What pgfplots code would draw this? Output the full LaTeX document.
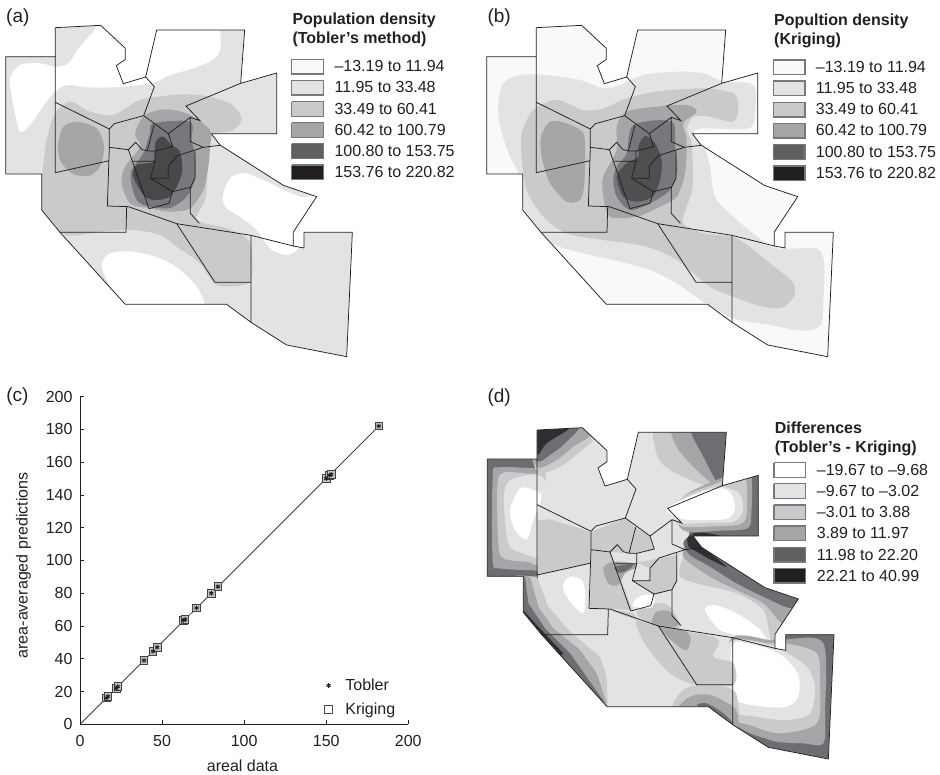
\documentclass[border=0pt]{standalone}
\usepackage{fontspec}
\setmainfont{Liberation Sans}
\usepackage{pgfplots}
\usepackage{pgfplotstable}
\pgfplotsset{compat=1.18}
\definecolor{lv1}{HTML}{F9F9F9}
\definecolor{lv2}{HTML}{E2E3E5}
\definecolor{lv3}{HTML}{C9CACC}
\definecolor{lv4}{HTML}{A5A6A8}
\definecolor{lv5}{HTML}{77787B}
\definecolor{lv6}{HTML}{47484A}
\definecolor{lv7}{HTML}{6D6E71}
\definecolor{lv8}{HTML}{2F2F31}
\definecolor{lg5}{HTML}{5F6062}
\definecolor{lg6}{HTML}{231F20}
\definecolor{edge}{HTML}{231F20}
\pgfplotstableread{
x y
166 83
302 76
376 145
376 178
349 197
370 251
437 231
470 90
734 90
722 250
830 219
830 401
634 401
660 435
850 556
950 590
880 696
880 738
912 744
912 697
1057 697
1040 1070
860 1035
753 967
680 913
376 913
180 697
125 630
125 522
17 522
17 170
166 170
166 83
}\tblOuter
\pgfplotstableread{
x y
-300 -300
1800 -300
1800 1500
-300 1500
-300 -300
166 83
302 76
376 145
376 178
349 197
370 251
437 231
470 90
734 90
722 250
830 219
830 401
634 401
660 435
850 556
950 590
880 696
880 738
912 744
912 697
1057 697
1040 1070
860 1035
753 967
680 913
376 913
180 697
125 630
125 522
17 522
17 170
166 170
166 83
-300 -300
}\tblMask
\pgfplotstableread{
x y
166 170
166 518
nan nan
166 307
328 387
343 371
431 347
463 260
437 231
nan nan
431 347
505 401
571 352
600 362
558 318
722 250
nan nan
328 387
328 442
322 618
385 620
530 671
753 706
880 738
nan nan
166 518
328 482
nan nan
328 442
385 449
407 427
425 448
442 453
465 453
518 440
505 401
nan nan
462 375
442 453
nan nan
385 449
447 626
nan nan
400 484
465 484
nan nan
465 453
465 484
452 535
517 575
571 562
585 535
585 453
nan nan
452 535
505 535
505 498
532 467
610 442
660 436
nan nan
571 352
571 425
610 442
nan nan
571 562
571 640
598 670
nan nan
517 575
507 610
447 626
nan nan
380 620
378 697
180 697
nan nan
530 671
645 847
753 847
nan nan
753 706
753 967
}\tblLines
\pgfplotsset{
 mapaxis/.style={scale only axis,hide axis,y dir=reverse,xmin=0,ymin=0,anchor=north west},
 c0/.style={fill=white,draw=none,smooth cycle},
 c1/.style={fill=lv1,draw=none,smooth cycle},
 c2/.style={fill=lv2,draw=none,smooth cycle},
 c3/.style={fill=lv3,draw=none,smooth cycle},
 c4/.style={fill=lv4,draw=none,smooth cycle},
 c5/.style={fill=lv5,draw=none,smooth cycle},
 c6/.style={fill=lv6,draw=none,smooth cycle},
 c7/.style={fill=lv7,draw=none,smooth cycle},
 c8/.style={fill=lv8,draw=none,smooth cycle},
 p3/.style={fill=lv3,draw=none},
 p4/.style={fill=lv4,draw=none},
 p7/.style={fill=lv7,draw=none},
}
\newcommand{\fs}{\fontsize{16}{19}\selectfont}
\newcommand{\ap}{{\char"0027}}
\newcommand{\basefill}[3]{\addplot[draw=none,fill=#1] table[x expr=\thisrow{x}+#2,y expr=\thisrow{y}+#3]{\tblOuter};}
\newcommand{\maskandlines}[2]{%
 \addplot[draw=none,fill=white,even odd rule] table[x expr=\thisrow{x}+#1,y expr=\thisrow{y}+#2]{\tblMask};
 \addplot[draw=edge,line width=0.75pt,line join=miter] table[x expr=\thisrow{x}+#1,y expr=\thisrow{y}+#2]{\tblOuter};
 \addplot[draw=edge,line width=0.75pt,unbounded coords=jump] table[x expr=\thisrow{x}+#1,y expr=\thisrow{y}+#2]{\tblLines};
}
\newcommand{\lrow}[6]{%
 \addplot[draw=lv5,line width=1.2pt,fill=#4] coordinates {(#1,#3-22) (#2,#3-22) (#2,#3+22) (#1,#3+22) (#1,#3-22)};
 \node[anchor=base west,inner sep=0pt,text=edge,font=\fs] at (axis cs:#5,#3+16) {#6};
}
\begin{document}
\begin{tikzpicture}[x=1pt,y=1pt]
\useasboundingbox (0,0) rectangle (940,774);
%--------------- (a)
\begin{axis}[mapaxis,at={(0pt,774pt)},width=470pt,height=380pt,xmax=1410,ymax=1140]
\basefill{lv2}{0}{0}
\addplot[c0] coordinates {(30,235)(60,195)(120,190)(166,200)(205,190)(240,140)(280,95)(310,55)(400,70)(470,60)(640,60)(662,140)(640,178)(580,205)(510,225)(470,245)(420,255)(340,262)(260,262)(200,255)(160,280)(125,325)(90,375)(60,395)(45,340)(35,285)};
\addplot[c0] coordinates {(668,590)(690,535)(735,520)(800,545)(900,590)(960,590)(930,660)(895,745)(860,765)(810,745)(770,690)(720,650)(680,625)};
\addplot[c0] coordinates {(305,800)(330,760)(400,755)(480,775)(540,810)(590,860)(615,913)(620,950)(376,950)(340,880)};
\addplot[c3] coordinates {(125,525)(140,420)(165,340)(210,305)(270,335)(340,345)(420,300)(520,285)(600,285)(690,310)(725,355)(700,390)(640,405)(622,450)(622,520)(615,600)(590,660)(680,685)(745,720)(757,790)(745,850)(650,855)(600,790)(530,740)(480,705)(400,690)(300,695)(200,705)(125,640)(105,580)};
\addplot[c4] coordinates {(175,430)(190,380)(230,365)(290,385)(312,440)(300,500)(265,528)(215,520)(180,480)};
\addplot[c4] coordinates {(405,400)(435,345)(500,328)(570,345)(630,390)(630,440)(625,500)(610,570)(570,625)(510,635)(450,625)(390,610)(365,550)(375,500)(420,440)};
\addplot[c5] coordinates {(460,370)(570,365)(575,420)(585,470)(585,535)(560,590)(505,625)(420,610)(395,555)(395,510)(430,460)(450,400)};
\addplot[c6] coordinates {(470,420)(490,410)(515,435)(540,455)(547,510)(535,550)(510,590)(470,600)(435,590)(400,530)(410,495)(460,485)(465,440)};
\maskandlines{0}{0}
\node[anchor=base west,inner sep=0pt,text=edge,font=\fontsize{19}{22}\selectfont] at (axis cs:18,68) {(a)};
\node[anchor=base west,inner sep=0pt,text=edge,font=\fs\bfseries] at (axis cs:877,74) {Population density};
\node[anchor=base west,inner sep=0pt,text=edge,font=\fs\bfseries] at (axis cs:877,131) {(Tobler\ap s method)};
\lrow{875}{970}{200}{lv1}{1003}{–13.19 to 11.94}
\lrow{875}{970}{263}{lv2}{1003}{11.95 to 33.48}
\lrow{875}{970}{327}{lv3}{1003}{33.49 to 60.41}
\lrow{875}{970}{390}{lv4}{1003}{60.42 to 100.79}
\lrow{875}{970}{453}{lg5}{1003}{100.80 to 153.75}
\lrow{875}{970}{517}{lg6}{1003}{153.76 to 220.82}
\end{axis}
%--------------- (b)
\begin{axis}[mapaxis,at={(470pt,774pt)},width=470pt,height=380pt,xmax=1410,ymax=1140]
\basefill{lv1}{33}{0}
\addplot[c2] coordinates {(85,310)(100,250)(150,225)(230,225)(330,240)(400,265)(450,255)(520,225)(620,215)(700,220)(760,245)(850,255)(855,340)(835,385)(700,385)(670,395)(700,430)(720,500)(735,590)(790,650)(850,700)(920,745)(1040,745)(1062,790)(1060,900)(1052,975)(1000,992)(900,975)(790,955)(700,905)(620,850)(540,810)(430,780)(320,755)(230,720)(160,620)(150,530)(120,470)(90,380)};
\addplot[c3] coordinates {(155,400)(190,330)(260,300)(340,330)(400,325)(470,295)(560,275)(700,265)(790,280)(805,320)(790,365)(720,350)(670,350)(650,390)(665,430)(668,560)(650,620)(640,670)(700,700)(800,715)(900,790)(970,850)(970,892)(930,925)(860,915)(790,890)(720,860)(620,780)(530,740)(400,720)(290,700)(220,650)(170,570)(155,470)};
\addplot[c4] coordinates {(213,410)(240,365)(290,370)(340,400)(345,470)(342,560)(330,600)(290,605)(240,550)(215,470)};
\addplot[c4] coordinates {(440,380)(470,335)(560,320)(650,315)(680,335)(640,370)(650,420)(645,520)(620,590)(570,620)(500,650)(420,650)(400,590)(400,530)(440,450)};
\addplot[c5] coordinates {(490,375)(605,365)(615,440)(622,510)(600,570)(540,610)(480,630)(440,590)(430,540)(440,500)(470,460)};
\addplot[fill=lv6!85!lv5,draw=none,smooth cycle] coordinates {(505,440)(525,408)(555,430)(575,480)(570,540)(548,590)(500,605)(460,590)(440,530)(470,490)(505,470)};
\maskandlines{33}{0}
\node[anchor=base west,inner sep=0pt,text=edge,font=\fontsize{19}{22}\selectfont] at (axis cs:52,68) {(b)};
\node[anchor=base west,inner sep=0pt,text=edge,font=\fs\bfseries] at (axis cs:912,76) {Popultion density};
\node[anchor=base west,inner sep=0pt,text=edge,font=\fs\bfseries] at (axis cs:912,134) {(Kriging)};
\lrow{910}{1005}{202}{lv1}{1037}{–13.19 to 11.94}
\lrow{910}{1005}{265}{lv2}{1037}{11.95 to 33.48}
\lrow{910}{1005}{329}{lv3}{1037}{33.49 to 60.41}
\lrow{910}{1005}{392}{lv4}{1037}{60.42 to 100.79}
\lrow{910}{1005}{456}{lg5}{1037}{100.80 to 153.75}
\lrow{910}{1005}{520}{lg6}{1037}{153.76 to 220.82}
\end{axis}
%--------------- (c)
\begin{axis}[scale only axis,at={(80pt,49.7pt)},anchor=origin,width=328.3pt,height=327.7pt,
 xmin=0,xmax=200,ymin=0,ymax=200,axis x line=bottom,axis y line=left,axis line style={-,edge,line width=0.9pt},
 xtick={0,50,100,150,200},ytick={0,20,...,200},tick align=inside,major tick length=4pt,
 tick style={edge,line width=0.8pt},clip=false,
 ticklabel style={font=\fs,text=edge},
 xticklabel style={yshift=-7pt},
 yticklabel style={xshift=-4pt},
 /pgf/number format/assume math mode=true,
 legend style={at={(axis cs:149,29)},anchor=north west,draw=none,fill=none,font=\fs,row sep=7pt,text=edge,inner sep=0pt},
 legend cell align=left]
\addplot[edge,line width=0.7pt,forget plot] coordinates {(0,0)(182,182)};
\addplot[only marks,forget plot,mark=square*,mark size=3.8pt,mark options={draw=edge!85!white,line width=0.8pt,fill=lv4!70!white}] coordinates {(16,16)(17,17)(22,22)(23,23)(39,39)(44.5,44.5)(47,47)(63,63.5)(64,64)(71,71)(80,80)(84,84)(150,150)(152,152)(153,152.5)(182,182)};
\addplot[only marks,mark=asterisk,mark size=2.4pt,mark options={draw=edge,line width=0.9pt}] coordinates {(16,16)(17,17)(22,22)(23,23)(39,39)(44.5,44.5)(47,47)(63,63.5)(64,64)(71,71)(80,80)(84,84)(150,150)(152,152)(153,152.5)(182,182)};
\addlegendentry{\hspace*{11pt}Tobler}
\addlegendimage{only marks,mark=square,mark size=3.8pt,mark options={draw=edge!80!white,line width=0.8pt}}
\addlegendentry{\hspace*{11pt}Kriging}
\node[anchor=west,inner sep=0pt,text=edge,font=\fontsize{19}{22}\selectfont] at (axis cs:-45,200) {(c)};
\node[anchor=center,inner sep=0pt,text=edge,font=\fs] at (axis cs:99,-25.3) {areal data};
\node[anchor=center,inner sep=0pt,text=edge,font=\fs,rotate=90] at (axis cs:-34.5,97) {area-averaged predictions};
\end{axis}
%--------------- (d)
\begin{axis}[mapaxis,at={(470pt,394pt)},width=470pt,height=394pt,xmax=1410,ymax=1182]
\basefill{lv2}{35}{67}
\addplot[p7] coordinates {(40,225)(203,225)(203,600)(40,600)};
\addplot[c4] coordinates {(68,290)(85,262)(200,265)(225,262)(225,560)(190,570)(90,565)(68,540)};
\addplot[c3] coordinates {(82,320)(100,278)(190,282)(225,280)(225,540)(170,545)(100,535)(85,490)};
\addplot[c2] coordinates {(102,350)(125,298)(225,300)(225,520)(160,520)(115,490)};
\addplot[c0] coordinates {(120,390)(150,325)(190,330)(215,350)(190,420)(170,478)(135,450)};
\addplot[p3] coordinates {(203,420)(240,418)(330,445)(365,460)(365,550)(280,570)(203,585)};
\addplot[c3] coordinates {(203,130)(340,130)(372,175)(330,215)(270,260)(203,278)(185,200)};
\addplot[c4] coordinates {(190,140)(335,130)(360,165)(310,200)(260,240)(203,262)(180,200)};
\addplot[c7] coordinates {(190,140)(330,130)(285,190)(240,225)(203,245)(180,200)};
\addplot[c8] coordinates {(190,135)(300,140)(230,190)(203,225)(185,190)};
\addplot[c3] coordinates {(567,140)(555,200)(575,250)(640,290)(760,325)(790,200)(790,140)};
\addplot[c4] coordinates {(615,140)(620,200)(680,270)(760,325)(790,200)(790,140)};
\addplot[c7] coordinates {(665,140)(700,230)(760,325)(790,200)(790,140)};
\addplot[p7] coordinates {(757,300)(880,270)(880,480)(655,480)(660,440)};
\addplot[c4] coordinates {(740,300)(838,270)(844,400)(832,445)(750,452)(650,455)(620,420)(640,350)};
\addplot[c3] coordinates {(740,310)(822,280)(830,400)(812,432)(750,438)(640,440)(610,410)(640,350)};
\addplot[c2] coordinates {(740,320)(808,340)(818,395)(790,425)(720,428)(640,430)(600,405)(640,360)};
\addplot[c0] coordinates {(590,385)(680,340)(757,325)(785,345)(795,385)(775,415)(720,420)(640,418)(607,405)};
\addplot[c3] coordinates {(630,590)(640,530)(665,470)(700,490)(880,610)(1000,650)(950,740)(915,800)(900,770)(880,690)(800,640)(700,615)};
\addplot[c4] coordinates {(640,530)(660,480)(700,490)(880,610)(1000,650)(950,730)(925,720)(880,670)(800,630)(720,590)};
\addplot[c7] coordinates {(640,490)(660,470)(700,490)(880,610)(1000,650)(965,685)(880,650)(800,610)(720,560)(660,525)};
\addplot[c8] coordinates {(652,475)(665,465)(690,495)(770,560)(720,538)(680,515)(656,500)};
\addplot[c8] coordinates {(665,462)(700,458)(750,468)(700,475)};
\addplot[c0] coordinates {(705,690)(730,675)(790,695)(860,740)(890,780)(880,802)(820,770)(750,750)};
\addplot[p7] coordinates {(790,775)(915,805)(945,810)(945,750)(1110,750)(1100,1160)(890,1120)(790,1050)};
\addplot[c4] coordinates {(950,778)(1060,790)(1065,1000)(1060,1090)(1000,1090)(900,1080)(780,1012)(780,780)(900,780)};
\addplot[c3] coordinates {(945,790)(1040,820)(1050,920)(1040,1030)(930,1060)(840,1035)(775,1000)(775,790)(900,790)};
\addplot[c2] coordinates {(945,815)(1010,860)(1035,920)(1020,1000)(950,1020)(860,1010)(775,980)(775,790)(900,795)};
\addplot[c0] coordinates {(790,790)(880,802)(940,830)(985,885)(985,950)(950,980)(880,980)(800,960)(785,880)};
\addplot[c3] coordinates {(610,985)(640,930)(700,915)(795,935)(800,1045)(720,1000)};
\addplot[c4] coordinates {(625,990)(660,950)(720,945)(795,985)(800,1045)(720,1000)};
\addplot[c7] coordinates {(680,975)(710,970)(760,1000)(790,1032)(720,990)};
\addplot[p3] coordinates {(130,585)(200,590)(235,680)(300,755)(390,830)(410,890)(414,1000)(130,1000)};
\addplot[p4] coordinates {(130,585)(180,590)(205,680)(250,745)(330,810)(380,880)(408,965)(415,1000)(130,1000)};
\addplot[p7] coordinates {(130,585)(165,590)(175,670)(225,745)(300,820)(402,965)(405,1000)(130,1000)};
\addplot[fill=lv8,draw=none] coordinates {(150,680)(200,735)(280,820)(270,830)(190,760)};
\addplot[c0] coordinates {(278,620)(300,590)(335,600)(345,640)(340,700)(300,665)};
\addplot[c3] coordinates {(430,695)(570,740)(740,775)(730,830)(790,850)(790,915)(680,915)(600,880)(530,800)(500,740)(490,700)};
\addplot[c3] coordinates {(500,700)(560,670)(600,680)(630,740)(570,745)};
\addplot[c4] coordinates {(545,730)(560,695)(600,695)(625,735)(585,742)};
\addplot[c4] coordinates {(570,742)(640,750)(662,775)(650,810)(620,795)};
\addplot[p3] coordinates {(365,455)(465,415)(500,445)(480,520)(420,515)(365,510)};
\addplot[p3] coordinates {(500,445)(540,468)(553,510)(480,520)};
\addplot[p3] coordinates {(500,548)(570,535)(620,525)(622,600)(605,630)(552,645)(487,602)(497,600)(535,600)(540,565)};
\addplot[p3] coordinates {(365,510)(420,515)(487,690)(360,685)};
\addplot[c4] coordinates {(400,565)(430,545)(490,550)(500,562)(465,580)(445,615)(415,610)};
\addplot[c7] coordinates {(435,560)(490,553)(470,572)(445,578)};
\addplot[c0] coordinates {(495,660)(520,645)(552,648)(545,682)(490,680)};
\maskandlines{35}{67}
\node[anchor=base west,inner sep=0pt,text=edge,font=\fontsize{19}{22}\selectfont] at (axis cs:52,68) {(d)};
\node[anchor=base west,inner sep=0pt,text=edge,font=\fs\bfseries] at (axis cs:914,159) {Differences};
\node[anchor=base west,inner sep=0pt,text=edge,font=\fs\bfseries] at (axis cs:914,217) {(Tobler\ap s - Kriging)};
\lrow{912}{1007}{270}{white}{1040}{–19.67 to –9.68}
\lrow{912}{1007}{333}{lv2}{1040}{–9.67 to –3.02}
\lrow{912}{1007}{397}{lv3}{1040}{–3.01 to 3.88}
\lrow{912}{1007}{460}{lv4}{1040}{3.89 to 11.97}
\lrow{912}{1007}{524}{lg5}{1040}{11.98 to 22.20}
\lrow{912}{1007}{587}{lg6}{1040}{22.21 to 40.99}
\end{axis}
\end{tikzpicture}
\end{document}
